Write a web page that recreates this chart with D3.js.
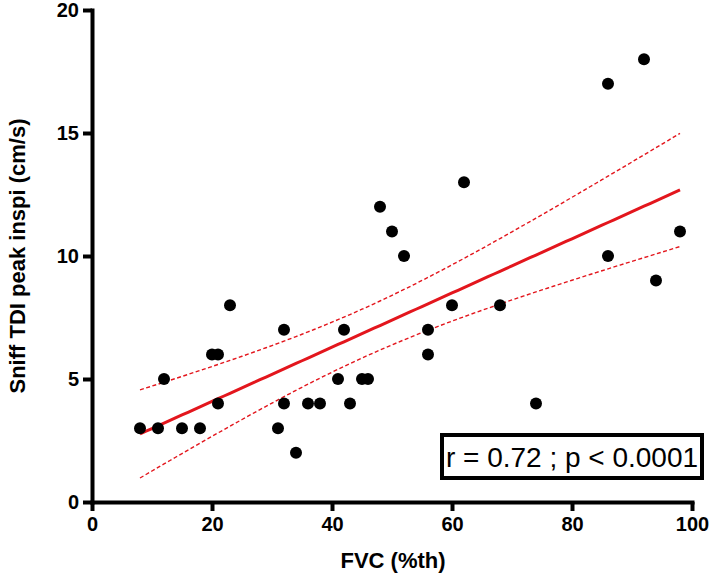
<!DOCTYPE html>
<meta charset="utf-8">
<script src="https://d3js.org/d3.v7.min.js"></script>
<style>
  body { margin: 0; background: #fff; }
  svg text { font-family: "Liberation Sans", Arial, sans-serif; }
</style>
<div id="my_dataviz"></div>
<script>

    // data
    var fvc   = [8, 11, 12, 15, 18, 20, 21, 21, 23, 31, 32, 32, 34, 36, 38, 41, 42,
                 43, 45, 46, 48, 50, 52, 56, 56, 60, 62, 68, 74, 86, 86, 92, 94, 98];
    var sniff = [3, 3, 5, 3, 3, 6, 6, 4, 8, 3, 7, 4, 2, 4, 4, 5, 7,
                 4, 5, 5, 12, 11, 10, 7, 6, 8, 13, 8, 4, 17, 10, 18, 9, 11];
    var xTicks = [0, 20, 40, 60, 80, 100];
    var yTicks = [0, 5, 10, 15, 20];
    var statsLabel = "r = 0.72 ; p < 0.0001";

    var width = 712, height = 574;
    var red = "#e3161d";

    var svg = d3.select("#my_dataviz")
        .append("svg")
        .attr("width", width)
        .attr("height", height);

    var x = d3.scaleLinear().domain([0, 100]).range([92, 692]);
    var y = d3.scaleLinear().domain([0, 20]).range([502, 10]);

    // linear regression + 95% confidence band of the mean
    var n = fvc.length;
    var mx = d3.mean(fvc), my = d3.mean(sniff);
    var sxx = d3.sum(fvc, function(d) { return (d - mx) * (d - mx); });
    var sxy = d3.sum(fvc, function(d, i) { return (d - mx) * (sniff[i] - my); });
    var slope = sxy / sxx, icpt = my - slope * mx;
    var sse = d3.sum(fvc, function(d, i) { var e = sniff[i] - (icpt + slope * d); return e * e; });
    var s = Math.sqrt(sse / (n - 2));
    var t = 2.037; // t(0.975, 32 df)
    var xs = d3.range(d3.min(fvc), d3.max(fvc) + 0.01, 1);
    var band = xs.map(function(v) {
        var fit = icpt + slope * v;
        var h = t * s * Math.sqrt(1 / n + (v - mx) * (v - mx) / sxx);
        return {x: v, fit: fit, lo: fit - h, hi: fit + h};
    });

    var line = function(key) {
        return d3.line()
            .x(function(d) { return x(d.x); })
            .y(function(d) { return y(d[key]); });
    };

    svg.append("path").datum(band)
        .attr("d", line("hi"))
        .attr("fill", "none").attr("stroke", red)
        .attr("stroke-width", 1.4).attr("stroke-dasharray", "4,2.5");
    svg.append("path").datum(band)
        .attr("d", line("lo"))
        .attr("fill", "none").attr("stroke", red)
        .attr("stroke-width", 1.4).attr("stroke-dasharray", "4,2.5");
    svg.append("path").datum(band)
        .attr("d", line("fit"))
        .attr("fill", "none").attr("stroke", red)
        .attr("stroke-width", 3);

    // points
    svg.selectAll("circle")
        .data(fvc)
        .enter()
        .append("circle")
        .attr("cx", function(d) { return x(d); })
        .attr("cy", function(d, i) { return y(sniff[i]); })
        .attr("r", 6)
        .attr("fill", "#000");

    // axes
    var gx = svg.append("g")
        .attr("transform", "translate(0," + y(0) + ")")
        .call(d3.axisBottom(x).tickValues(xTicks).tickSize(9).tickSizeOuter(0).tickPadding(6));
    var gy = svg.append("g")
        .attr("transform", "translate(" + x(0) + ",0)")
        .call(d3.axisLeft(y).tickValues(yTicks).tickSize(9).tickSizeOuter(0).tickPadding(4));

    [gx, gy].forEach(function(g) {
        g.select(".domain").attr("stroke-width", 4).attr("stroke-linecap", "square");
        g.selectAll(".tick line").attr("stroke-width", 4);
        g.selectAll(".tick text")
            .attr("font-size", 20)
            .attr("font-weight", "bold")
            .attr("fill", "#000")
            .style("font-family", "'Liberation Sans', Arial, sans-serif");
    });

    // axis titles
    svg.append("text")
        .attr("x", 393).attr("y", 568)
        .attr("text-anchor", "middle")
        .attr("font-size", 22).attr("font-weight", "bold")
        .text("FVC (%th)");

    svg.append("text")
        .attr("transform", "translate(25,256) rotate(-90)")
        .attr("text-anchor", "middle")
        .attr("font-size", 22).attr("font-weight", "bold")
        .text("Sniff TDI peak inspi (cm/s)");

    // stats box
    svg.append("rect")
        .attr("x", 442).attr("y", 435)
        .attr("width", 260).attr("height", 43)
        .attr("fill", "#fff").attr("stroke", "#000").attr("stroke-width", 4);
    svg.append("text")
        .attr("x", 572).attr("y", 467)
        .attr("text-anchor", "middle")
        .attr("font-size", 28)
        .text(statsLabel);

</script>
